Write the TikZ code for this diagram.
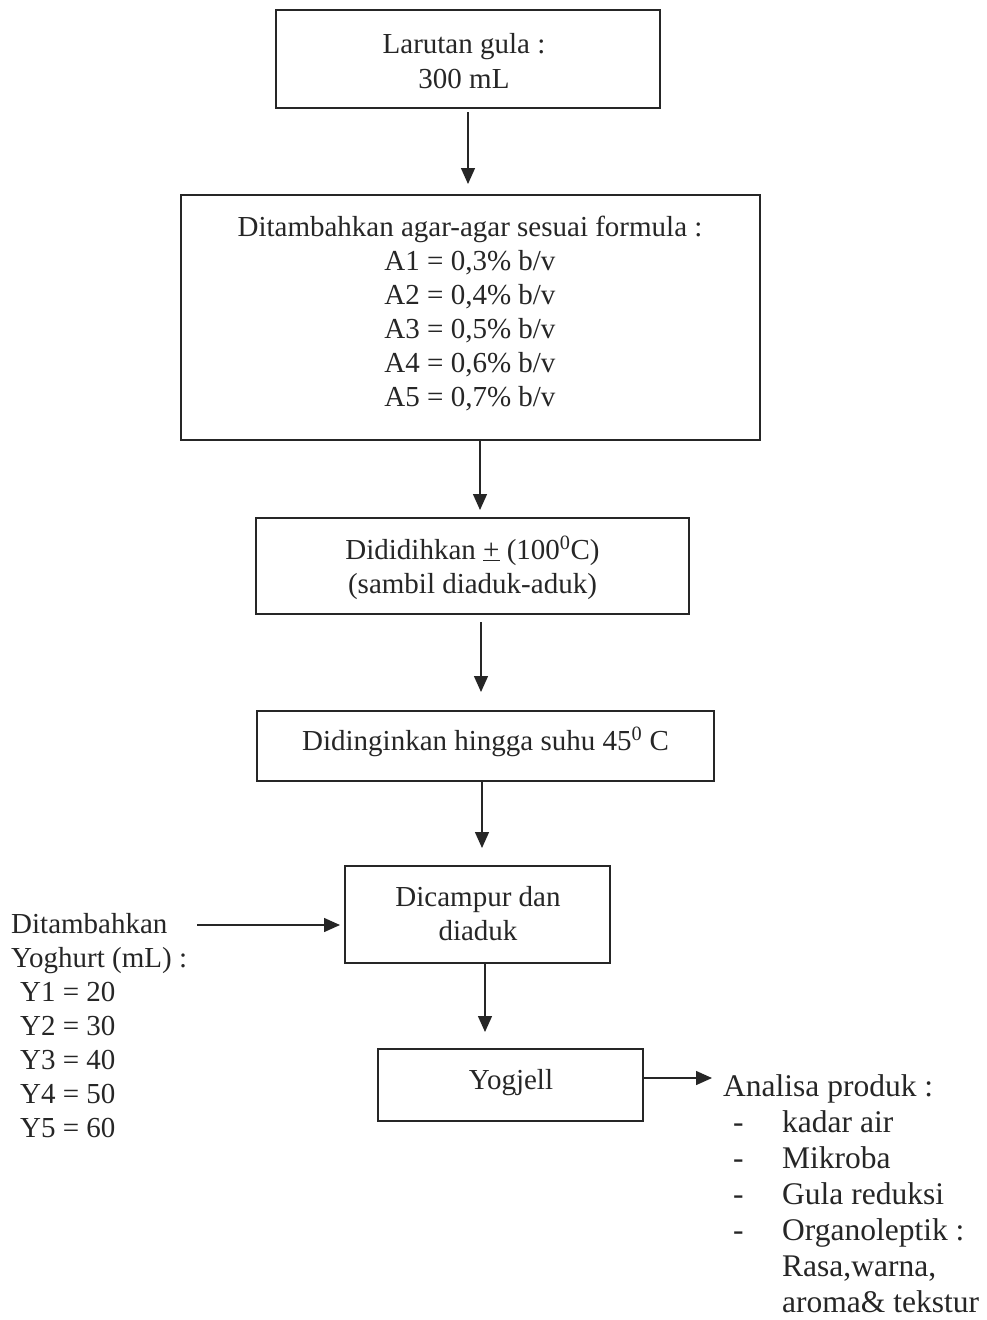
\documentclass[tikz,border=0pt]{standalone}
\usepackage{fontspec}
\setmainfont{Liberation Serif}
\usetikzlibrary{arrows.meta}
\begin{document}
\begin{tikzpicture}[x=1pt,y=-1pt,
  box/.style={draw=black!85, line width=1.6pt, rectangle, outer sep=0pt, inner sep=0pt},
  txt/.style={font=\fontsize{29}{34}\selectfont, align=center, inner sep=0pt, anchor=north, text=black!85},
  side/.style={font=\fontsize{29}{34}\selectfont, align=left, inner sep=0pt, anchor=north west, text=black!85},
  arr/.style={draw=black!85, line width=1.4pt, -{Triangle[length=16pt,width=14pt]}}]
\useasboundingbox[fill=white] (0,0) rectangle (986,1320);

% process boxes
\node[box, minimum width=384pt, minimum height=98pt]  (b1) at (468,59) {};
\node[box, minimum width=579pt, minimum height=245pt] (b2) at (470.5,317.5) {};
\node[box, minimum width=433pt, minimum height=96pt]  (b3) at (472.5,566) {};
\node[box, minimum width=457pt, minimum height=70pt]  (b4) at (485.5,746) {};
\node[box, minimum width=265pt, minimum height=97pt]  (b5) at (477.5,914.5) {};
\node[box, minimum width=265pt, minimum height=72pt]  (b6) at (510.5,1085) {};

% box texts
\node[txt] (t1) at (464,29) {\strut Larutan gula :\\[1pt]300 mL};
\node[txt] (t2) at (470,212) {\strut Ditambahkan agar-agar sesuai formula :\\
  A1 = 0,3\% b/v\\A2 = 0,4\% b/v\\A3 = 0,5\% b/v\\A4 = 0,6\% b/v\\A5 = 0,7\% b/v};
\node[txt] (t3) at (472.5,535) {\strut Dididihkan \underline{+} (100\textsuperscript{0}C)\\(sambil diaduk-aduk)};
\node[txt] (t4) at (485.5,726) {\strut Didinginkan hingga suhu 45\textsuperscript{0} C};
\node[txt] (t5) at (478,882) {\strut Dicampur dan\\diaduk};
\node[txt] (t6) at (511,1065) {\strut Yogjell};

% side texts
\node[side] (yog) at (11,909) {\strut Ditambahkan\\Yoghurt (mL) :\\
  \hspace*{9pt}Y1 = 20\\\hspace*{9pt}Y2 = 30\\\hspace*{9pt}Y3 = 40\\\hspace*{9pt}Y4 = 50\\\hspace*{9pt}Y5 = 60};
\node[side, font=\fontsize{31.5}{36}\selectfont] (ana) at (723,1071.5) {\strut Analisa produk :\\
  \hspace*{10pt}\makebox[49pt][l]{-}kadar air\\
  \hspace*{10pt}\makebox[49pt][l]{-}Mikroba\\
  \hspace*{10pt}\makebox[49pt][l]{-}Gula reduksi\\
  \hspace*{10pt}\makebox[49pt][l]{-}Organoleptik :\\
  \hspace*{59pt}Rasa,warna,\\
  \hspace*{59pt}aroma\& tekstur};

% free ends of the side connectors
\coordinate (lin) at (197,925);
\coordinate (rout) at (712,1078);

% connectors
\draw[arr, shorten <=4pt, shorten >=11pt] (b1.south) -- (b1.south |- b2.north);
\draw[arr, shorten >=8pt]  (b2.south -| 480,0) -- (b3.north -| 480,0);
\draw[arr, shorten <=8pt, shorten >=19pt] (b3.south -| 481,0) -- (b4.north -| 481,0);
\draw[arr, shorten >=18pt] (b4.south -| 482,0) -- (b5.north -| 482,0);
\draw[arr, shorten >=17pt] (b5.south -| 485,0) -- (b6.north -| 485,0);
\draw[arr, shorten >=5pt] (lin) -- (b5.west |- lin);
\draw[arr] (b6.east |- rout) -- (rout);
\end{tikzpicture}
\end{document}
